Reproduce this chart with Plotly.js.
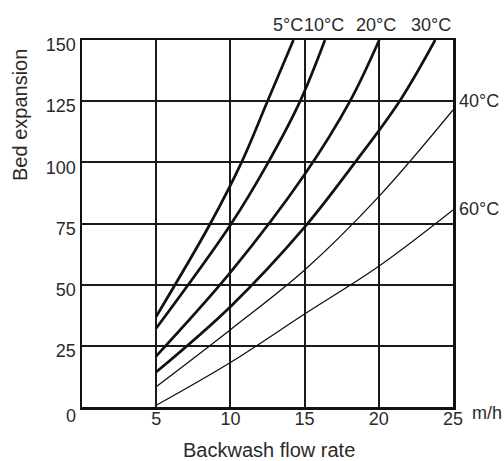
<!DOCTYPE html>
<html>
<head>
<meta charset="utf-8">
<script src="https://cdn.plot.ly/plotly-3.0.1.min.js"></script>
<style>html,body{margin:0;padding:0;background:#fff;}#chart{width:504px;height:461px;}</style>
</head>
<body>
<div id="chart"></div>
<script>
// Curve data (x = backwash flow rate m/h, y = bed expansion)
const x5 = [5, 8.65, 10.75, 12.5, 14.25];
const y5 = [37, 75, 100, 125, 150];
const x10 = [5, 10, 12.55, 14.7, 16.37];
const y10 = [32.2, 74.4, 100, 125, 150];
const x20 = [5, 10, 15, 18.06, 20.03];
const y20 = [20.8, 55, 95, 125, 150];
const x30 = [5, 10, 15, 18.4, 21.4, 23.8];
const y30 = [14.3, 41, 73.5, 100, 125, 150];
const x40 = [5, 10, 15, 20, 25];
const y40 = [8.3, 31.6, 56, 86, 121.4];
const x60 = [5, 10, 15, 20, 25];
const y60 = [0.7, 18.2, 38, 57.5, 80.5];

const seriesNames = ['5°C', '10°C', '20°C', '30°C', '40°C', '60°C'];
const xTicks = [5, 10, 15, 20, 25];
const yTicks = [25, 50, 75, 100, 125, 150];
const topLabelX = [13.88, 16.3, 19.81, 23.52];
const rightLabelY = [125, 81];

const xs = [x5, x10, x20, x30, x40, x60];
const ys = [y5, y10, y20, y30, y40, y60];
const widths = [2.7, 2.7, 2.7, 2.7, 1.3, 1.3];

const traces = xs.map((xv, i) => ({
  x: xv, y: ys[i], name: seriesNames[i], type: 'scatter', mode: 'lines',
  line: {color: '#111', width: widths[i], shape: 'spline', smoothing: 1},
  hoverinfo: 'skip'
}));

const txt = '#2a2a2a';
const fnt = {family: 'Liberation Sans, Arial, sans-serif', size: 18, color: txt};
const tfnt = {family: 'Liberation Sans, Arial, sans-serif', size: 20, color: txt};

const annotations = [];
for (let i = 0; i < 4; i++) {
  annotations.push({x: topLabelX[i], y: 150, xref: 'x', yref: 'y', text: seriesNames[i],
    showarrow: false, yshift: 15, xanchor: 'center', yanchor: 'middle', font: fnt});
}
for (let i = 0; i < 2; i++) {
  annotations.push({x: 1, y: rightLabelY[i], xref: 'paper', yref: 'y', text: seriesNames[4 + i],
    showarrow: false, xshift: 4, xanchor: 'left', yanchor: 'middle', font: fnt});
}
annotations.push({x: 1, y: 0, xref: 'paper', yref: 'y', text: 'm/h', showarrow: false,
  xanchor: 'left', yanchor: 'middle', xshift: 17, yshift: -6, font: fnt});
annotations.push({x: 0, y: 0, xref: 'x', yref: 'y', text: '0', showarrow: false,
  xanchor: 'center', yanchor: 'middle', xshift: -11.5, yshift: -9, font: fnt});
annotations.push({x: 0, y: 1, xref: 'paper', yref: 'paper', text: 'Bed expansion', showarrow: false,
  textangle: -90, xanchor: 'center', yanchor: 'middle', xshift: -62, yshift: -75, font: tfnt});
annotations.push({x: 0.5, y: 0, xref: 'paper', yref: 'paper', text: 'Backwash flow rate', showarrow: false,
  xanchor: 'center', yanchor: 'middle', xshift: 1.5, yshift: -43, font: tfnt});

const layout = {
  width: 504, height: 461,
  margin: {l: 82, r: 51, t: 40, b: 54, pad: 0},
  paper_bgcolor: '#fff', plot_bgcolor: '#fff',
  showlegend: false,
  font: fnt,
  xaxis: {
    range: [0, 25], tickvals: xTicks, ticktext: xTicks.map(String),
    showgrid: true, gridcolor: '#1a1a1a', gridwidth: 2,
    showline: true, linecolor: '#111', linewidth: 2.5, mirror: true,
    zeroline: false, ticks: '', fixedrange: true,
    tickfont: fnt, ticklabelstandoff: -6
  },
  yaxis: {
    range: [0, 150], tickvals: yTicks, ticktext: yTicks.map(String),
    showgrid: true, gridcolor: '#1a1a1a', gridwidth: 2,
    showline: true, linecolor: '#111', linewidth: 2.5, mirror: true,
    zeroline: false, ticks: '', fixedrange: true,
    tickfont: fnt, ticklabelshift: 5, ticklabelstandoff: 0
  },
  annotations: annotations
};

Plotly.newPlot('chart', traces, layout, {displayModeBar: false, staticPlot: true});
</script>
</body>
</html>
